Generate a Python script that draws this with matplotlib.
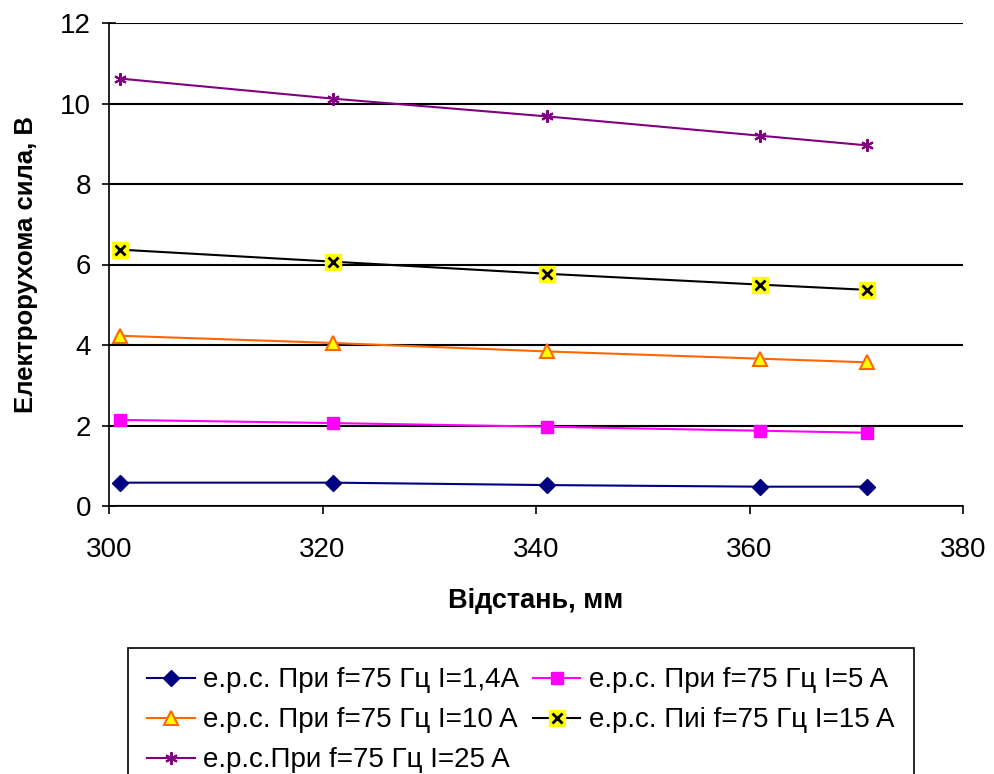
import matplotlib
matplotlib.use("Agg")
import matplotlib.pyplot as plt
from matplotlib.legend_handler import HandlerTuple

plt.rcParams['font.family'] = ['Liberation Sans', 'DejaVu Sans']

x = [301, 321, 341, 361, 371]
y_14 = [0.58, 0.58, 0.52, 0.48, 0.48]
y_5 = [2.14, 2.06, 1.97, 1.87, 1.82]
y_10 = [4.23, 4.05, 3.84, 3.66, 3.57]
y_15 = [6.37, 6.07, 5.77, 5.50, 5.37]
y_25 = [10.62, 10.12, 9.68, 9.20, 8.96]

labels = [
    "е.р.с. При f=75 Гц I=1,4A",
    "е.р.с. При f=75 Гц I=5 A",
    "е.р.с. При f=75 Гц I=10 A",
    "е.р.с. Пиі f=75 Гц I=15 A",
    "е.р.с.При f=75 Гц I=25 A",
]
x_ticks = [300, 320, 340, 360, 380]
y_ticks = [0, 2, 4, 6, 8, 10, 12]

fig = plt.figure(figsize=(9.94, 7.74), dpi=100)
ax = fig.add_axes([109/994, 1-506/774, (963-109)/994, (506-23)/774])

h1, = ax.plot(x, y_14, color='#000080', lw=1.5, marker='D', ms=8.5,
              mfc='#000080', mec='#000080')
h2, = ax.plot(x, y_5, color='#FF00FF', lw=1.5, marker='s', ms=8,
              mfc='#FF00FF', mec='#FF00FF')
h3, = ax.plot(x, y_10, color='#FF6600', lw=1.5, marker='^', ms=10,
              mfc='#FFFF00', mec='#FF6600', mew=1.5)
h4a, = ax.plot(x, y_15, color='black', lw=1.5, marker='s', ms=12,
               mfc='#FFFF00', mec='#FFFF00')
h4b, = ax.plot(x, y_15, color='black', lw=0, marker='x', ms=7, mew=2)
h5, = ax.plot(x, y_25, color='#800080', lw=1.5, marker=(6, 2, 0), ms=9,
              mec='#800080', mew=1.5)

ax.set_xlim(300, 380)
ax.set_ylim(0, 12)
ax.set_xticks(x_ticks)
ax.set_yticks(y_ticks)
ax.yaxis.grid(True, color='black', lw=1.5)
ax.set_axisbelow(True)
for s in ['top', 'right']:
    ax.spines[s].set_visible(False)
ax.spines['left'].set_linewidth(1.2)
ax.spines['bottom'].set_linewidth(1.2)
ax.tick_params(axis='y', direction='inout', length=10, width=1.2, labelsize=20, pad=8)
ax.tick_params(axis='x', direction='out', length=6, width=1.2, labelsize=20, pad=16)

ax.set_xlabel("Відстань, мм", fontsize=19.5, fontweight='bold', labelpad=18)
ax.set_ylabel("Електрорухома сила, В", fontsize=18.5, fontweight='bold', labelpad=16)

handles = [h1, h3, h5, h2, (h4a, h4b)]
labs = [labels[0], labels[2], labels[4], labels[1], labels[3]]
leg = fig.legend(handles, labs, ncol=2, loc='upper left',
                 bbox_to_anchor=(128/994, 1-648/774),
                 fontsize=20, frameon=True, fancybox=False,
                 edgecolor='black', framealpha=1, borderpad=0.7,
                 handlelength=1.7, handletextpad=0.3, columnspacing=0.5,
                 labelspacing=0.5, borderaxespad=0,
                 handler_map={tuple: HandlerTuple(ndivide=1)})
leg.get_frame().set_linewidth(1.2)

fig.savefig("out.png", dpi=100)
